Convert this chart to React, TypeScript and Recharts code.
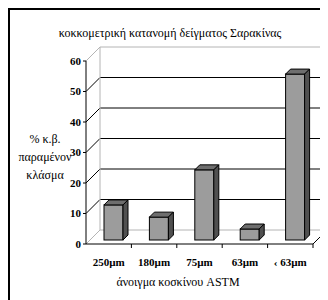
import { BarChart, Bar, XAxis, YAxis, CartesianGrid } from "recharts";

const categories = ["250µm", "180µm", "75µm", "63µm", "‹ 63µm"];
const percentRetained = [11.5, 7.5, 23, 3.6, 54.4];
const yTicks = [0, 10, 20, 30, 40, 50, 60];

const title = "κοκκομετρική κατανομή δείγματος Σαρακίνας";
const yLabelLines = ["% κ.β.", "παραμένον", "κλάσμα"];
const xLabel = "άνοιγμα κοσκίνου ASTM";

const data = categories.map((name, i) => ({ name, value: percentRetained[i] }));

const WIDTH = 320;
const HEIGHT = 292;
const MARGIN = { top: 53, right: 15, left: 0, bottom: 0 };
const Y_AXIS_W = 78;
const X_AXIS_H = 56;
const PLOT_W = WIDTH - MARGIN.left - MARGIN.right - Y_AXIS_W;
const HALF_BAND = PLOT_W / categories.length / 2;

const WALL = 14; // depth of the back wall
const BAR_DEPTH = 5;
const BAR_SHIFT_X = 5;
const BAR_SHIFT_Y = -4;

const FONT = "Times New Roman, Liberation Serif, serif";
const EDGE_GRAY = "#b4b4b4";

function GridLine(props: any) {
  const { x1, y1, x2, y, height } = props;
  const isTop = Math.abs(y1 - y) < 0.5;
  const isFloor = Math.abs(y1 - (y + height)) < 0.5;
  const col = isTop || isFloor ? EDGE_GRAY : "#000";
  return (
    <g>
      <line x1={x1} y1={y1} x2={x1 + WALL} y2={y1 - WALL} stroke={col} />
      <line x1={x1 + WALL} y1={y1 - WALL} x2={x2 + WALL} y2={y1 - WALL} stroke={col} />
      {isTop && (
        <line x1={x1 + WALL} y1={y1 - WALL} x2={x1 + WALL} y2={y + height - WALL} stroke={EDGE_GRAY} />
      )}
      {isFloor && <line x1={x2} y1={y1} x2={x2 + WALL} y2={y1 - WALL} stroke="#000" />}
    </g>
  );
}

function Bar3D(props: any) {
  const { x, y, width, height } = props;
  const fx = x + BAR_SHIFT_X;
  const fy = y + BAR_SHIFT_Y;
  const d = BAR_DEPTH;
  const top = `${fx},${fy} ${fx + d},${fy - d} ${fx + width + d},${fy - d} ${fx + width},${fy}`;
  const side = `${fx + width},${fy} ${fx + width + d},${fy - d} ${fx + width + d},${fy + height - d} ${fx + width},${fy + height}`;
  return (
    <g stroke="#000" strokeWidth={1}>
      <rect x={fx} y={fy} width={width} height={height} fill="#9c9c9c" />
      <polygon points={top} fill="#6e6e6e" />
      <polygon points={side} fill="#505050" />
    </g>
  );
}

function XTick(props: any) {
  const { x, y, payload } = props;
  return (
    <g>
      <line x1={x + HALF_BAND} y1={y - 4} x2={x + HALF_BAND} y2={y} stroke="#000" />
      <text x={x} y={y + 18} textAnchor="middle" fontFamily={FONT} fontSize={11} fontWeight="bold" fill="#000">
        {payload.value}
      </text>
    </g>
  );
}

function YLabel() {
  return (
    <g>
      {yLabelLines.map((line, i) => (
        <text key={line} x={37} y={131 + i * 18} dy="0.35em" textAnchor="middle" fontFamily={FONT} fontSize={12} fill="#000">
          {line}
        </text>
      ))}
    </g>
  );
}

function XLabel() {
  return (
    <text x={170} y={274} dy="0.35em" textAnchor="middle" fontFamily={FONT} fontSize={12} fill="#000">
      {xLabel}
    </text>
  );
}

export default function App() {
  return (
    <div style={{ position: "relative", width: WIDTH, height: HEIGHT, background: "#fff" }}>
      <div style={{ position: "absolute", left: 0, top: 0, width: 2, height: HEIGHT, background: "#000" }} />
      <div style={{ position: "absolute", left: 0, top: 0, width: WIDTH, height: 2, background: "#000" }} />
      <div
        style={{
          position: "absolute",
          left: 0,
          top: 18,
          width: 324,
          textAlign: "center",
          fontFamily: FONT,
          fontSize: 12,
          lineHeight: "14px",
          color: "#000",
        }}
      >
        {title}
      </div>
      <BarChart width={WIDTH} height={HEIGHT} data={data} margin={MARGIN} barSize={19}>
        <CartesianGrid vertical={false} horizontal={GridLine} />
        <XAxis
          dataKey="name"
          height={X_AXIS_H}
          interval={0}
          tickLine={false}
          tickSize={4}
          tickMargin={0}
          axisLine={{ stroke: "#000" }}
          tick={XTick}
          label={{ content: XLabel }}
        />
        <YAxis
          width={Y_AXIS_W}
          domain={[0, 60]}
          ticks={yTicks}
          interval={0}
          tickSize={3}
          tickMargin={2}
          axisLine={{ stroke: "#000" }}
          tickLine={{ stroke: "#000" }}
          tick={{ fontFamily: FONT, fontSize: 11, fontWeight: "bold", fill: "#000" }}
          label={{ content: YLabel }}
        />
        <Bar dataKey="value" shape={Bar3D} isAnimationActive={false} />
      </BarChart>
    </div>
  );
}
